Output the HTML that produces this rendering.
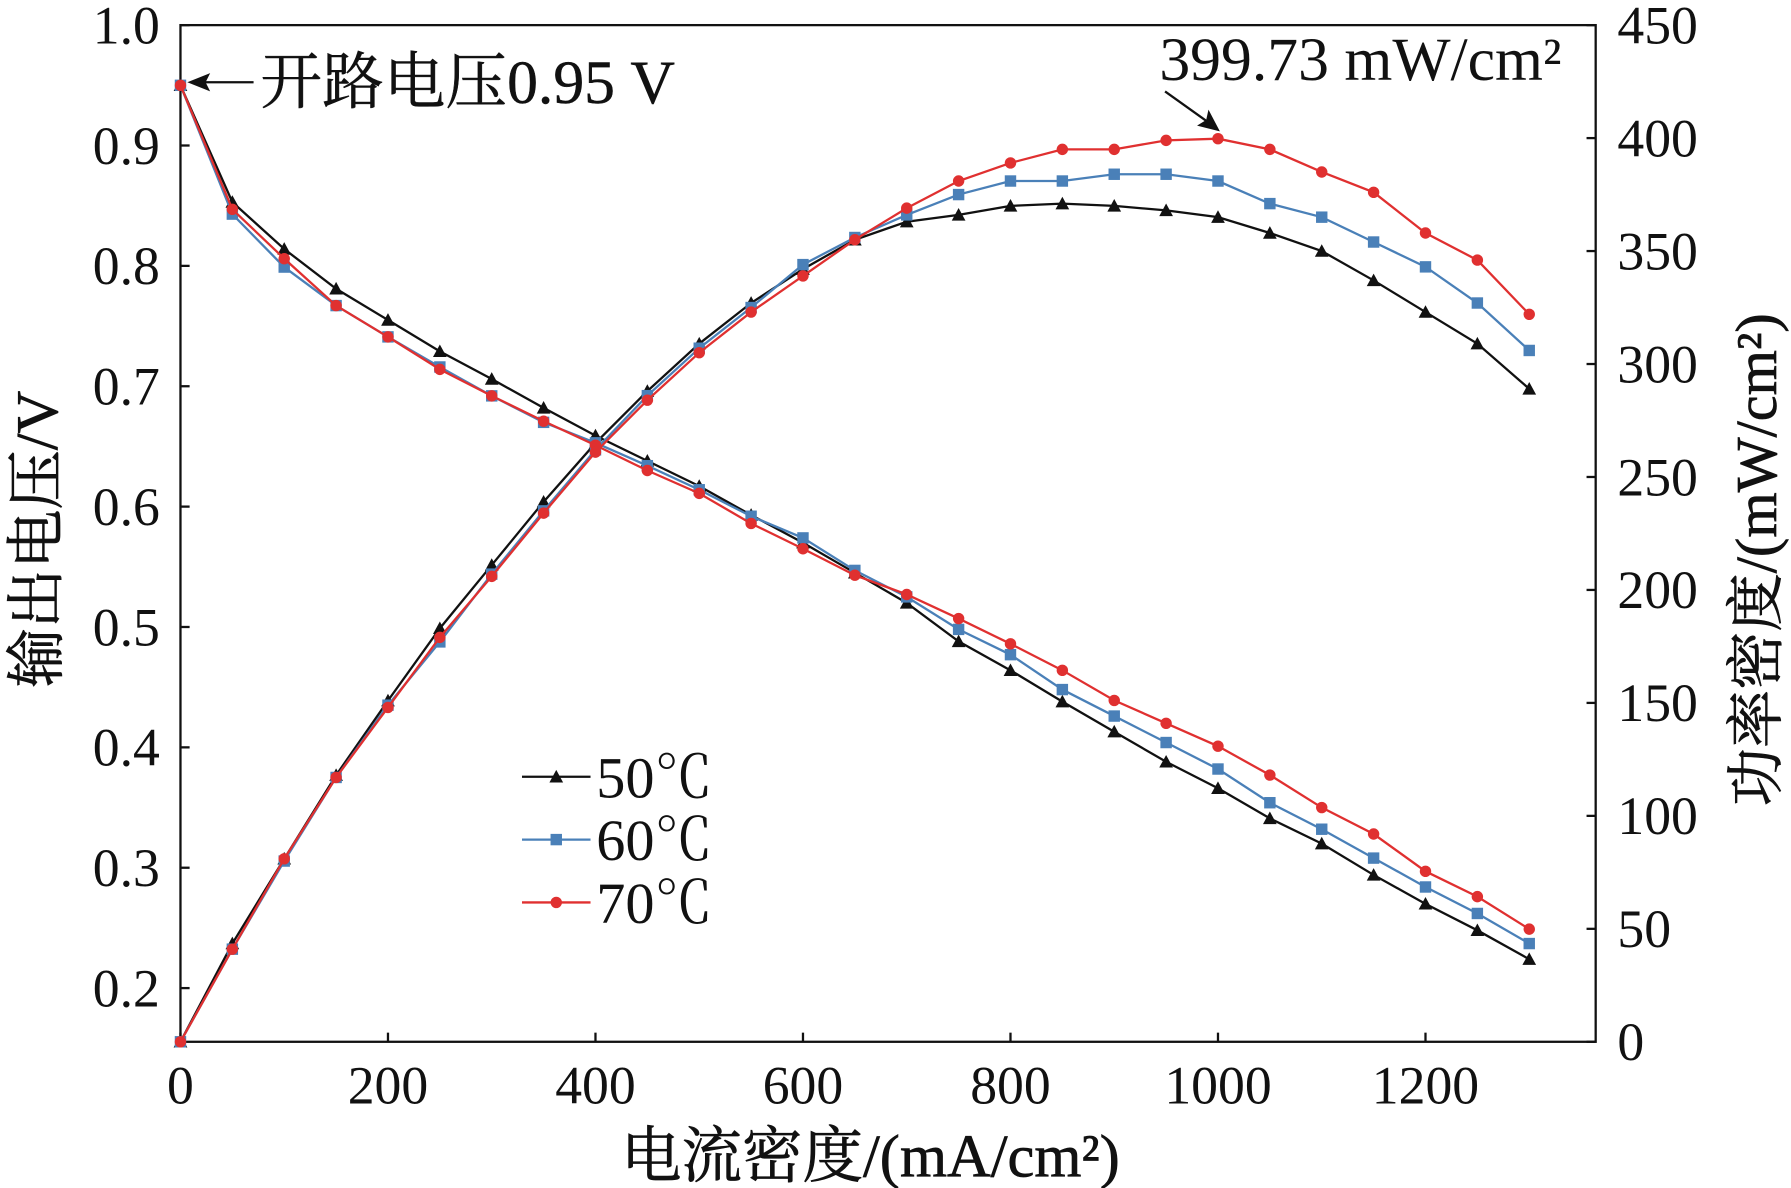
<!DOCTYPE html>
<html><head><meta charset="utf-8"><style>
html,body{margin:0;padding:0;background:#fff;}
svg{display:block;}
text{font-family:"Liberation Serif","Noto Serif CJK SC",serif;fill:#111;}
</style></head><body>
<svg id="chart" width="1791" height="1188" viewBox="0 0 1568 1040" preserveAspectRatio="none">
<g id="axes"></g><g id="series"></g><g id="legend"></g>
</svg>
<script>
const currents=[0,50,100,150,200,250,300,350,400,450,500,550,600,650,700,750,800,850,900,950,1000,1050,1100,1150,1200,1250,1300];
const v50=[0.95,0.853,0.814,0.781,0.755,0.729,0.706,0.682,0.659,0.638,0.617,0.593,0.570,0.545,0.520,0.488,0.464,0.438,0.413,0.388,0.366,0.341,0.320,0.294,0.270,0.248,0.224];
const v60=[0.95,0.843,0.799,0.767,0.741,0.716,0.692,0.670,0.653,0.634,0.614,0.592,0.574,0.547,0.525,0.498,0.477,0.448,0.426,0.404,0.382,0.354,0.332,0.308,0.284,0.262,0.237];
const v70=[0.95,0.847,0.806,0.767,0.741,0.714,0.692,0.671,0.651,0.630,0.611,0.586,0.565,0.543,0.527,0.507,0.486,0.464,0.439,0.420,0.401,0.377,0.350,0.328,0.297,0.276,0.249];
const p50=[0,43.5,81,118,151,183,211,239,265,288,309,327,342,355,363,366,370,371,370,368,365,358,350,337,323,309,289];
const p60=[0,41,80,117,149,177,207,235,262,286,307,325,344,356,366,375,381,381,384,384,381,371,365,354,343,327,306];
const p70=[0,41,81,117,148,179,206,234,261,284,305,323,339,355,369,381,389,395,395,399,399.73,395,385,376,358,346,322];
const xTicks=[0,200,400,600,800,1000,1200];
const yTicks=[0.2,0.3,0.4,0.5,0.6,0.7,0.8,0.9,1.0];
const y2Ticks=[0,50,100,150,200,250,300,350,400,450];
const legendLabels=["50℃","60℃","70℃"];

const X0=158,X1=1397,Y0=912,Ytop=22;
const xs=c=>X0+c*(1248-158)/1200;
const ys=v=>865-(v-0.2)*(865-22)/0.8;
const ys2=p=>Y0-p*(Y0-Ytop)/450;
const NS="http://www.w3.org/2000/svg";
function mk(tag,attrs,parent){const e=document.createElementNS(NS,tag);for(const k in attrs)e.setAttribute(k,attrs[k]);parent.appendChild(e);return e;}
const axes=document.getElementById('axes'),ser=document.getElementById('series'),leg=document.getElementById('legend');

let a=mk('rect',{x:X0,y:Ytop,width:X1-X0,height:Y0-Ytop,fill:'none',stroke:'#111','stroke-width':2},axes);


xTicks.forEach(t=>{
 mk('line',{x1:xs(t),x2:xs(t),y1:Y0,y2:Y0-8,stroke:'#111','stroke-width':2},axes);
 const e=mk('text',{x:xs(t),y:966,'font-size':47,'text-anchor':'middle'},axes);e.textContent=t;
 
});
yTicks.forEach(t=>{
 mk('line',{x1:X0,x2:X0+8,y1:ys(t),y2:ys(t),stroke:'#111','stroke-width':2},axes);
 const e=mk('text',{x:140,y:ys(t)+16,'font-size':47,'text-anchor':'end'},axes);e.textContent=t.toFixed(1);
 
});
y2Ticks.forEach(t=>{
 mk('line',{x1:X1,x2:X1-8,y1:ys2(t),y2:ys2(t),stroke:'#111','stroke-width':2},axes);
 const e=mk('text',{x:1416,y:ys2(t)+16,'font-size':47,'text-anchor':'start'},axes);e.textContent=t;
 
});
let t=mk('text',{x:762,y:1030,'font-size':53,'text-anchor':'middle','stroke':'#111','stroke-width':0.6},axes);t.textContent='电流密度/(mA/cm²)';

t=mk('text',{x:0,y:0,'font-size':52,'text-anchor':'middle','stroke':'#111','stroke-width':0.6,transform:'translate(50,472) rotate(-90)'},axes);t.textContent='输出电压/V';

t=mk('text',{x:0,y:0,'font-size':51,'text-anchor':'middle','stroke':'#111','stroke-width':0.6,transform:'translate(1555,490) rotate(-90)'},axes);t.textContent='功率密度/(mW/cm²)';


t=mk('text',{x:228,y:90,'font-size':54,'stroke':'#111','stroke-width':0.4},axes);t.textContent='开路电压0.95 V';

mk('line',{x1:222,x2:172,y1:72,y2:72,stroke:'#111','stroke-width':2},axes);
mk('path',{d:'M164,72 L184,64 L180,72 L184,80 Z',fill:'#111'},axes);
t=mk('text',{x:1015,y:70,'font-size':54},axes);t.textContent='399.73 mW/cm²';

mk('line',{x1:1020,x2:1062,y1:80,y2:110,stroke:'#111','stroke-width':2},axes);
mk('path',{d:'M1068,115 L1048,110 L1056,105 L1058,96 Z',fill:'#111'},axes);

const series=[{v:v50,p:p50,c:'#111',m:'tri'},{v:v60,p:p60,c:'#4a80b8',m:'sq'},{v:v70,p:p70,c:'#e03030',m:'circ'}];
function marker(g,x,y,s){
 if(s.m==='tri')mk('path',{d:`M${x},${y-6} L${x+6},${y+5} L${x-6},${y+5} Z`,fill:s.c},g);
 else if(s.m==='sq')mk('rect',{x:x-5,y:y-5,width:10,height:10,fill:s.c},g);
 else mk('circle',{cx:x,cy:y,r:5,fill:s.c},g);
}
series.forEach((s,i)=>{
 const g=mk('g',{},ser);
 
 
 const vp=currents.map((c,j)=>xs(c)+','+ys(s.v[j])).join(' ');
 const pp=currents.map((c,j)=>xs(c)+','+ys2(s.p[j])).join(' ');
 const l1=mk('polyline',{points:vp,fill:'none',stroke:s.c,'stroke-width':2},g);
 
 const l2=mk('polyline',{points:pp,fill:'none',stroke:s.c,'stroke-width':2},g);
 
 currents.forEach((c,j)=>{marker(g,xs(c),ys(s.v[j]),s);marker(g,xs(c),ys2(s.p[j]),s);});
 const ly=680+i*55;
 mk('line',{x1:457,x2:517,y1:ly,y2:ly,stroke:s.c,'stroke-width':2},leg);
 marker(leg,487,ly,s);
 const lt=mk('text',{x:522,y:ly+18,'font-size':51},leg);lt.textContent=legendLabels[i];
 
});
</script>
</body></html>
